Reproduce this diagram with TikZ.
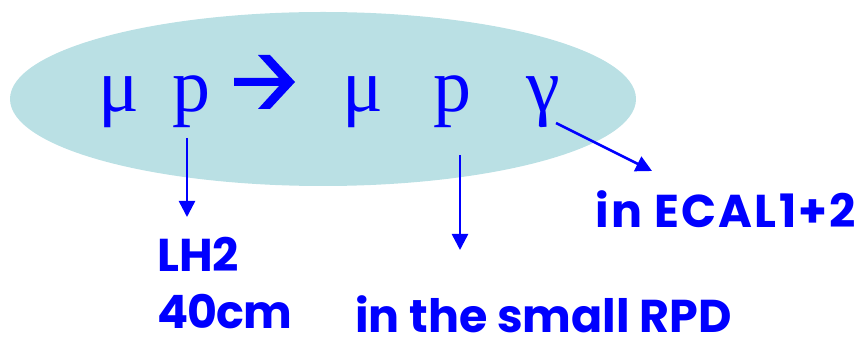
\documentclass[tikz,border=0pt]{standalone}
\usepackage{fontspec}
\usetikzlibrary{arrows.meta}
\setmainfont{Liberation Serif}
\newfontfamily\labfont{Poppins}
\definecolor{ellfill}{RGB}{186,224,228}
\definecolor{ink}{RGB}{0,0,255}
\begin{document}
\begin{tikzpicture}[x=1pt,y=-1pt,
  part/.style={inner sep=0pt,anchor=base west,text=ink,font=\fontsize{76}{76}\selectfont},
  lab/.style={inner sep=0pt,anchor=base west,text=ink,text depth=0pt,font=\labfont\bfseries\fontsize{46}{46}\selectfont},
  arr/.style={draw=ink,line width=2.5pt,-{Triangle[length=16pt,width=16pt]}}]
\useasboundingbox (0,0) rectangle (864,344);
\fill[ellfill] (323,99) ellipse [x radius=313,y radius=87];
\node[part] (mu1) at (98,112) {μ};
\node[part] (p1) at (172,112) {p};
\fill[ink] (234,78) -- (279,78) -- (258,55) -- (270,55) -- (295,82) -- (270,109) -- (258,109) -- (279,86) -- (234,86) -- cycle;
\node[part] (mu2) at (342,112) {μ};
\node[part] (p2) at (433,112) {p};
\node[part] (ga) at (526,112) {γ};
\node[lab] (lh) at (157,272) {LH2};
\node[lab] (cm) at (157,328) {\addfontfeature{LetterSpace=-2}40cm};
\node[lab] (rpd) at (355,333) {in the small RPD};
\node[lab] (ecal) at (595,228) {\addfontfeature{LetterSpace=5}in ECAL1+2};
\coordinate (s1) at (187,138);
\coordinate (e1) at (187,217);
\coordinate (s2) at (460,155);
\coordinate (e2) at (460,250);
\coordinate (s3) at (556,123);
\coordinate (e3) at (652,171);
\draw[arr] (s1) -- (e1);
\draw[arr] (s2) -- (e2);
\draw[arr] (s3) -- (e3);
\end{tikzpicture}
\end{document}
